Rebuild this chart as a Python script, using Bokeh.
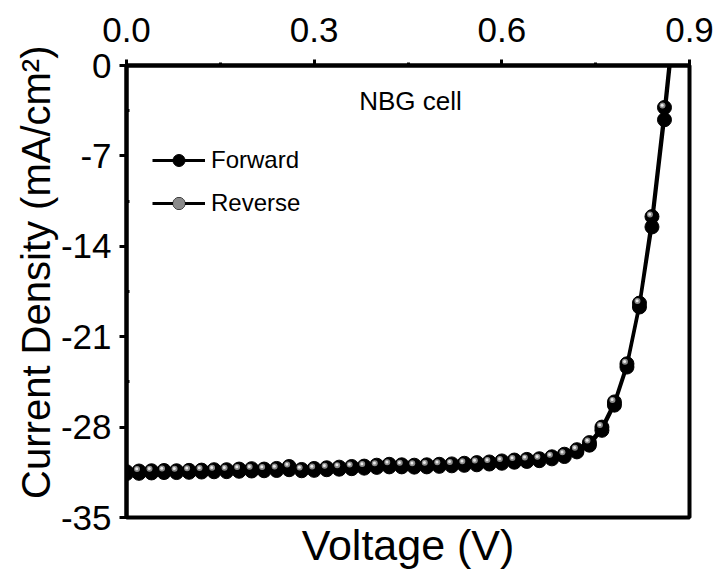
from bokeh.plotting import figure
from bokeh.models import (Range1d, LinearAxis, FixedTicker, Legend, LegendItem,
                          Label, Title, ColumnDataSource, CustomJSTickFormatter)
from bokeh.embed import file_html
from bokeh.resources import INLINE

# ---- data ----
voltage = [0.00, 0.02, 0.04, 0.06, 0.08, 0.10, 0.12, 0.14, 0.16, 0.18,
           0.20, 0.22, 0.24, 0.26, 0.28, 0.30, 0.32, 0.34, 0.36, 0.38,
           0.40, 0.42, 0.44, 0.46, 0.48, 0.50, 0.52, 0.54, 0.56, 0.58,
           0.60, 0.62, 0.64, 0.66, 0.68, 0.70, 0.72, 0.74, 0.76, 0.78,
           0.80, 0.82, 0.84, 0.86, 0.88]
j_reverse = [-31.45, -31.40, -31.38, -31.36, -31.38, -31.35, -31.33, -31.30, -31.30, -31.25,
             -31.22, -31.25, -31.20, -31.05, -31.28, -31.20, -31.15, -31.10, -31.05, -31.02,
             -30.95, -30.88, -30.92, -30.95, -30.92, -30.88, -30.85, -30.80, -30.75, -30.70,
             -30.62, -30.55, -30.50, -30.45, -30.30, -30.10, -29.75, -29.20, -28.00, -26.05,
             -23.10, -18.40, -11.70, -3.25, 6.10]
j_forward = [-31.60, -31.58, -31.55, -31.52, -31.52, -31.50, -31.48, -31.46, -31.45, -31.42,
             -31.40, -31.38, -31.36, -31.30, -31.38, -31.35, -31.30, -31.26, -31.22, -31.18,
             -31.12, -31.08, -31.08, -31.10, -31.08, -31.04, -31.00, -30.96, -30.92, -30.86,
             -30.80, -30.72, -30.66, -30.60, -30.46, -30.28, -29.92, -29.40, -28.25, -26.30,
             -23.35, -18.70, -12.50, -4.20, 5.00]
x_ticks = [0.0, 0.3, 0.6, 0.9]
x_minor = [0.15, 0.45, 0.75]
y_ticks = [-35, -28, -21, -14, -7, 0]
y_minor = [-31.5, -24.5, -17.5, -10.5, -3.5]
series_names = ["Forward", "Reverse"]
y_title = "Current Density (mA/cm²)"
x_title = "Voltage (V)"
note = "NBG cell"

FONT = "Liberation Sans"
W, H = 716, 577
BL, BR, BT, BB = 126, 27, 65, 60
XMIN, XMAX, YMIN, YMAX = 0.0, 0.9, -35.0, 0.0

p = figure(width=W, height=H, output_backend="svg", toolbar_location=None,
           x_range=Range1d(XMIN, XMAX), y_range=Range1d(YMIN, YMAX),
           x_axis_location="above", min_border_left=BL, min_border_right=BR,
           min_border_top=BT, min_border_bottom=BB)
p.grid.visible = False
p.outline_line_color = "black"
p.outline_line_width = 4
p.background_fill_color = "white"
p.border_fill_color = "white"

# top x axis
xa = p.xaxis[0]
xa.ticker = FixedTicker(ticks=x_ticks, minor_ticks=x_minor)
xa.formatter = CustomJSTickFormatter(code="return tick.toFixed(1)")
xa.axis_line_width = 4
xa.major_tick_line_width = 3
xa.minor_tick_line_width = 3
xa.major_tick_in = 0
xa.major_tick_out = 6
xa.minor_tick_in = 0
xa.minor_tick_out = 3
xa.major_label_text_font = FONT
xa.major_label_text_font_size = "35px"
xa.major_label_text_color = "black"
xa.major_label_standoff = 18

# left y axis
ya = p.yaxis[0]
ya.ticker = FixedTicker(ticks=y_ticks, minor_ticks=y_minor)
ya.formatter = CustomJSTickFormatter(code="return tick.toString()")
ya.axis_line_width = 4
ya.major_tick_line_width = 3
ya.minor_tick_line_width = 3
ya.major_tick_in = 0
ya.major_tick_out = 7
ya.minor_tick_in = 3
ya.minor_tick_out = 0
ya.major_label_text_font = FONT
ya.major_label_text_font_size = "35px"
ya.major_label_text_color = "black"
ya.major_label_standoff = 8

# y title in the left panel, top-aligned and pushed slightly above the frame top
p.add_layout(Title(text=y_title, align="right", offset=-20, standoff=0,
                   text_font=FONT, text_font_size="40px", text_font_style="normal",
                   text_color="black"), "left")

# bottom axis carrying only the title
xb = LinearAxis(ticker=FixedTicker(ticks=[]), axis_line_color=None,
                major_tick_line_color=None, minor_tick_line_color=None,
                major_label_text_font_size="0px",
                axis_label=x_title, axis_label_text_font=FONT,
                axis_label_text_font_size="43px", axis_label_text_font_style="normal",
                axis_label_text_color="black", axis_label_standoff=3)
p.add_layout(xb, "below")

# pixel -> data conversion (frame size)
fw = W - BL - BR
fh = H - BT - BB
dxp = (XMAX - XMIN) / fw
dyp = (YMAX - YMIN) / fh

src_f = ColumnDataSource(dict(x=voltage, y=j_forward))
src_r = ColumnDataSource(dict(
    x=voltage, y=j_reverse,
    hx=[v - 2.0 * dxp for v in voltage], hy=[j + 2.0 * dyp for j in j_reverse],
    wx=[v - 2.3 * dxp for v in voltage], wy=[j + 2.3 * dyp for j in j_reverse]))

SIZE = 14
lf = p.line("x", "y", source=src_f, line_color="black", line_width=3)
sf = p.scatter("x", "y", source=src_f, size=SIZE, fill_color="black", line_color="black")
lr = p.line("x", "y", source=src_r, line_color="black", line_width=3)
sr = p.scatter("x", "y", source=src_r, size=SIZE, fill_color="black", line_color="black")
hr = p.scatter("hx", "hy", source=src_r, size=6, fill_color="#8a8a8a", line_color=None)
wr = p.scatter("wx", "wy", source=src_r, size=3, fill_color="#e8e8e8", line_color=None)

legend = Legend(items=[LegendItem(label=series_names[0], renderers=[lf, sf]),
                       LegendItem(label=series_names[1], renderers=[lr, sr, hr])],
                location=(26, 299), padding=0, margin=0, spacing=13,
                glyph_width=53, glyph_height=30, label_height=30,
                label_standoff=6, label_text_font=FONT, label_text_font_size="24px",
                label_text_color="black", border_line_color=None,
                background_fill_alpha=0)
p.add_layout(legend, "center")

# annotation text placed in data units (frame pixels converted)
p.add_layout(Label(x=XMIN + (410 - BL) * dxp, y=YMAX - (100 - BT) * dyp,
                   text=note, text_font=FONT, text_font_size="26px",
                   text_color="black", text_align="center", text_baseline="middle"))

open("out.html", "w").write(file_html(p, INLINE))
